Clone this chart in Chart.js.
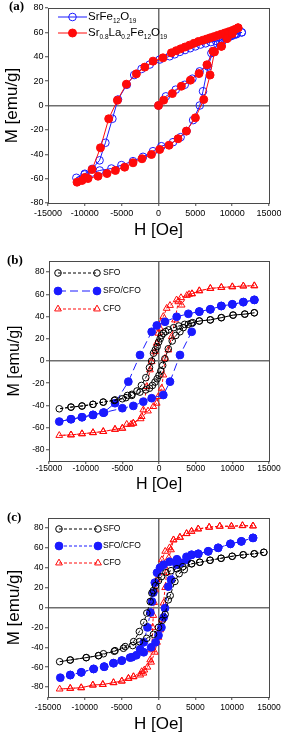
<!DOCTYPE html>
<html lang="en">
<head>
<meta charset="UTF-8" />
<title>M-H hysteresis loops</title>
<script src="https://cdn.jsdelivr.net/npm/chart.js"></script>
<style>
  body { margin: 0; background: #fff; width: 281px; height: 736px; position: relative; overflow: hidden; }
  canvas { position: absolute; left: 0; }
</style>
</head>
<body>
<canvas id="chartA" width="281" height="245" style="top:0"></canvas>
<canvas id="chartB" width="281" height="250" style="top:245px"></canvas>
<canvas id="chartC" width="281" height="241" style="top:495px"></canvas>

<script>
const FONT = "'Liberation Sans', Arial, sans-serif";

// axis ticks (same for all three panels)
const hTicks = [-15000, -10000, -5000, 0, 5000, 10000, 15000];
const mTicks = [-80, -60, -40, -20, 0, 20, 40, 60, 80];

// ---- (a) ----  path = initial curve, upper branch, lower branch
const aSrfH = [0, 1000, 2340, 3560, 4600, 5590, 6600, 7180, 8000, 8700, 9500, 10300, 11300,
  10600, 9900, 9200, 8500, 7800, 7100, 6400, 5700, 5000, 4300, 3600, 2900, 2200, 1520, 160, -1190, -2300, -3300, -4300, -5500, -6260, -7210, -8000, -9000, -10000, -11150,
  -10020, -9000, -7980, -6390, -5030, -3460, -2100, -750, 390, 1970, 3000, 3800, 4700, 5600, 6040, 6720, 7400, 8300, 9000, 9800, 10500, 11300];
const aSrfM = [0, 7.5, 13, 17, 22, 28, 33, 43, 50, 53, 56, 58, 60,
  58.5, 57, 55.5, 54, 53, 52, 51, 50, 48.5, 47, 45.5, 44, 42, 40.4, 37.7, 33.6, 30, 25, 17, 4.9, -10.9, -30.6, -45, -52, -56, -59.3,
  -56.6, -55, -53.3, -51.7, -48.9, -45.7, -42.1, -37.5, -33.4, -30.1, -26, -21, -12, 0, 11.7, 32, 44.5, 53, 55.5, 57.5, 59, 60];

const aLaH = [0, 700, 1880, 3100, 4330, 5500, 6580, 7400, 8540, 9300, 10000, 10800,
  10400, 10000, 9500, 9000, 8500, 8000, 7500, 7000, 6500, 6000, 5400, 4800, 4200, 3600, 3000, 2400, 1750, 610, -740, -1860, -3000, -4360, -5580, -6760, -7880, -9020, -10000, -11060,
  -10380, -9570, -8210, -6990, -5850, -4590, -3460, -2240, -960, 160, 1430, 2650, 3790, 5010, 6140, 7000, 7600, 8540, 9300, 10000, 10800];
const aLaM = [0, 4.4, 9.8, 15.8, 20.8, 26.2, 33.4, 44.5, 48.6, 55, 59, 63.7,
  62.5, 61.5, 60.5, 59.5, 58.5, 57.5, 56.5, 55.5, 54.5, 53.5, 52.5, 51, 49.5, 48, 46.5, 45, 43.2, 39.1, 36.4, 31.5, 26, 17.5, 4.3, -10.9, -34.7, -52.5, -59, -62.9,
  -61.5, -59.9, -58, -55.8, -53.3, -50.6, -47, -43.7, -40.2, -36.1, -32.6, -27.3, -21, -10.1, 4.9, 25, 44, 48.6, 55, 59, 63.7];

// ---- (b) ----  path = upper branch, lower branch
const bSfoH = [13000, 11700, 10100, 8500, 7000, 5500, 4400, 3500, 2700, 2000, 1300, 900, 600, 350, 150, -50, -250, -500, -750, -1000, -1300, -1800, -2400, -3000, -3700, -4300, -5000, -6100, -7600, -9000, -10500, -12000, -13600,
  -12000, -10500, -9000, -7600, -6000, -4500, -3700, -2600, -1800, -1300, -900, -550, -250, 0, 250, 500, 800, 1270, 1800, 2300, 2860, 3300, 4000, 4600, 5500, 7000, 8500, 10100, 11700, 13000];
const bSfoM = [43.4, 42.2, 41.3, 39, 37, 36, 34, 33, 31.5, 30, 28, 26.5, 25, 23, 20, 17, 13, 10, 7, 0, -6, -15, -22, -27, -30, -31, -34, -35.5, -37, -39, -40.5, -41.5, -43,
  -41.5, -40.5, -39, -37, -35, -33, -31, -28, -26, -24.5, -22, -19, -16, -13, -9, -4, 2, 11, 18, 23, 26.3, 30, 33, 34.5, 36, 37, 39, 41.3, 42.2, 43.4];

const bMixH = [13000, 11500, 10000, 8500, 7000, 5500, 4000, 2410, 820, -300, -1000, -2590, -4180, -6000, -7600, -9000, -10500, -12000, -13600,
  -12000, -10500, -9000, -7500, -5000, -3500, -2140, -1000, 590, 1500, 2860, 4460, 5500, 7000, 8500, 10000, 11500, 13000];
const bMixM = [55, 53, 51, 49.5, 46.5, 44.5, 42.5, 39.8, 35.3, 32, 26.3, 5.4, -18.6, -38, -46.5, -48.5, -50.6, -52.4, -54.5,
  -52.4, -50.6, -48.5, -46.4, -42.5, -40.4, -36.6, -33.5, -30.6, -18.6, 5.4, 26.3, 44.5, 46.5, 49.5, 51, 53, 55];

const bCfoH = [13000, 11500, 10000, 8500, 7000, 5500, 4500, 4100, 3000, 2400, 1500, 1050, 590, 360, 140, -90, -310, -550, -1000, -1230, -1680, -2140, -2360, -3500, -3800, -5000, -6000, -7600, -9000, -10500, -12000, -13600,
  -12000, -10500, -9000, -7600, -6000, -5000, -4400, -3500, -2500, -1500, -770, -310, -90, 360, 590, 820, 1270, 1730, 2180, 2630, 3090, 3800, 4500, 5500, 7000, 8500, 10000, 11500, 13000];
const bCfoM = [67.7, 67.5, 66.8, 66.2, 65.3, 63.2, 60.5, 60, 57, 55, 50, 47.4, 40, 35.3, 29.4, 25, 16, 8.4, -0.6, -8, -23, -44, -50, -56, -57, -60.5, -61.5, -63.5, -64.5, -65.5, -66.5, -67,
  -66.5, -65.5, -64.5, -63.5, -61.5, -60.5, -57, -56, -52, -45, -41, -38, -32, -24.5, -12.6, 2.4, 9.9, 21.8, 36.9, 53.3, 50.3, 59, 60.5, 63.2, 65.3, 66.2, 66.8, 67.5, 67.7];

// ---- (c) ----
const cSfoH = [14300, 13000, 11500, 10000, 8500, 7000, 5600, 4500, 3300, 2500, 1700, 1000, 400, 0, -400, -700, -900, -1130, -1580, -2000, -2600, -3370, -4520, -5900, -7470, -8140, -9810, -11980, -13420,
  -11980, -9810, -8140, -6000, -4760, -3500, -2590, -1600, -680, 0, 500, 900, 1330, 1590, 2230, 2800, 3500, 4500, 5600, 7000, 8500, 10000, 11500, 13000, 14300];
const cSfoM = [55.5, 54, 53, 51.5, 49.5, 47.5, 45.5, 44, 41, 39, 37, 35, 31, 27, 22, 17, 14.5, 6, -5.6, -15, -24.2, -34.3, -39.3, -43.4, -46.5, -48.4, -50.4, -52.8, -54.5,
  -52.8, -50.4, -48.4, -44, -41, -38.3, -34.3, -31, -27, -20, -13, -7, 7.7, 12, 26.2, 34, 38, 44, 45.5, 47.5, 49.5, 51.5, 53, 54, 55.5];

const cMixH = [12830, 11250, 9770, 8100, 6750, 5400, 4490, 3800, 2500, 1500, 700, 200, -200, -500, -700, -880, -1100, -1500, -2000, -2500, -3600, -4990, -6110, -7370, -8810, -10480, -11970, -13330,
  -11970, -10480, -8810, -7370, -6110, -4990, -3860, -3000, -2000, -1000, -400, 0, 400, 700, 880, 1330, 1700, 2460, 3000, 3820, 4490, 5400, 6750, 8100, 9770, 11250, 12830];
const cMixM = [70, 66.5, 64, 60, 56.5, 54, 53, 51, 48.5, 46, 43, 40, 35, 25, 15, 6, -5, -20, -35, -42, -50, -53.4, -56, -59.5, -61.8, -65.2, -67.9, -70.6,
  -67.9, -65.2, -61.8, -59.5, -56, -53.4, -50.4, -48, -45, -40, -35, -28, -20, -10, -0.7, 21, 28, 43, 45, 48, 53, 54, 56.5, 60, 64, 66.5, 70];

const cCfoH = [12830, 11400, 9900, 8320, 6880, 5390, 4490, 3810, 2910, 2040, 1500, 910, 460, 230, 0, -220, -450, -600, -700, -800, -900, -1130, -1500, -2040, -2480, -3400, -4080, -4980, -6110, -7560, -8910, -10490, -11980, -13420,
  -11980, -10490, -8910, -7560, -6110, -4980, -4080, -3400, -2280, -1920, -1000, -500, -200, 0, 230, 460, 680, 900, 1100, 1400, 1700, 2040, 2910, 3810, 4490, 5390, 6880, 8320, 9900, 11400, 12830];
const cCfoM = [82, 82.3, 81.7, 81.7, 80.7, 79, 76.6, 74.3, 70.6, 68, 60, 56.5, 48, 41, 34.7, 28, 17.8, 5, -8, -20, -42.6, -52.7, -60, -66, -67.9, -69.6, -71.3, -74, -75.6, -77.4, -78, -80.7, -81.3, -82,
  -81.3, -80.7, -78, -77.4, -75.6, -74, -71.3, -69.6, -64.5, -62.9, -55, -45, -35, -30, -22.5, -12.4, 4.4, 20, 35, 50, 58, 68, 70.6, 74.3, 76.6, 79, 80.7, 81.7, 81.7, 82.3, 82];

const BLUE = '#1a1aff', RED = '#ff0a0a', BLACK = '#000';

function pts(h, m) { return h.map((v, i) => ({ x: v, y: m[i] })); }

function series(h, m, color, style) {
  return Object.assign({
    data: pts(h, m), showLine: true,
    borderColor: color, borderWidth: 1,
    pointBorderColor: color, pointBorderWidth: 1,
    pointBackgroundColor: 'rgba(255,255,255,0)',
    pointStyle: 'circle', pointRadius: 3.5
  }, style);
}

// box around the plot area
const framePlugin = {
  id: 'frame',
  afterDraw(chart) {
    const { ctx, chartArea: a } = chart;
    ctx.save();
    ctx.strokeStyle = '#4a4a4a';
    ctx.lineWidth = 1;
    ctx.strokeRect(Math.round(a.left) + 0.5, Math.round(a.top) + 0.5, Math.round(a.right - a.left), Math.round(a.bottom - a.top));
    ctx.restore();
  }
};

// text with subscripts, parts = [[text, isSub], ...]
function richText(ctx, parts, x, y, size, subSize) {
  parts.forEach(([t, sub]) => {
    ctx.font = (sub ? subSize : size) + 'px ' + FONT;
    ctx.fillText(t, x, sub ? y + size * 0.38 : y);
    x += ctx.measureText(t).width;
  });
}

const legendPlugin = {
  id: 'boxLegend',
  afterDraw(chart, args, o) {
    const ctx = chart.ctx;
    o.items.forEach((it, i) => {
      const ds = chart.data.datasets[it.ds];
      const y = o.y + i * o.gap;
      ctx.save();
      ctx.strokeStyle = ds.borderColor;
      ctx.lineWidth = ds.borderWidth;
      ctx.setLineDash(ds.borderDash || []);
      ctx.beginPath();
      ctx.moveTo(o.x0, y);
      ctx.lineTo(o.x1, y);
      ctx.stroke();
      ctx.setLineDash([]);
      const xs = o.middle ? [(o.x0 + o.x1) / 2] : [o.x0, o.x1];
      xs.forEach(x => {
        ctx.fillStyle = ds.pointBackgroundColor;
        ctx.strokeStyle = ds.pointBorderColor;
        ctx.lineWidth = ds.pointBorderWidth;
        Chart.helpers.drawPoint(ctx, { pointStyle: ds.pointStyle, radius: ds.pointRadius, borderWidth: ds.pointBorderWidth, rotation: 0 }, x, y);
      });
      ctx.fillStyle = '#000';
      ctx.textBaseline = 'middle';
      ctx.textAlign = 'left';
      richText(ctx, it.text, o.tx, y, o.size, o.subSize);
      ctx.restore();
    });
  }
};

const tagPlugin = {
  id: 'tag',
  afterDraw(chart, args, o) {
    const ctx = chart.ctx;
    ctx.save();
    ctx.font = "bold 13px 'Liberation Serif', serif";
    ctx.fillStyle = '#000';
    ctx.textBaseline = 'middle';
    ctx.fillText(o.text, o.x, o.y);
    ctx.restore();
  }
};

function makeChart(id, datasets, p) {
  const zeroGrid = c => (c.tick && c.tick.value === 0 ? '#6e6e6e' : 'rgba(0,0,0,0)');
  return new Chart(document.getElementById(id), {
    type: 'scatter',
    data: { datasets },
    options: {
      responsive: false,
      animation: false,
      layout: { padding: { top: p.top, right: 281 - p.right, left: 0, bottom: 0 } },
      plugins: {
        legend: { display: false },
        tooltip: { enabled: false },
        boxLegend: p.legend,
        tag: p.tag
      },
      scales: {
        x: {
          type: 'linear', min: -15000, max: 15000,
          afterBuildTicks: s => { s.ticks = hTicks.map(v => ({ value: v })); },
          afterFit: s => { s.height = p.h - p.bottom; s.paddingLeft = 0; s.paddingRight = 0; },
          ticks: { autoSkip: false, maxRotation: 0, padding: p.xTickPad, color: '#000',
                   font: { family: FONT, size: p.tick }, callback: v => String(v) },
          grid: { color: zeroGrid, lineWidth: 1.5, tickColor: '#4a4a4a', tickLength: 3, tickWidth: 1 },
          border: { display: false },
          title: { display: true, text: 'H [Oe]', color: '#000', font: { family: FONT, size: p.title },
                   padding: { top: 0, bottom: p.xTitlePad } }
        },
        y: {
          type: 'linear', min: p.ymin, max: p.ymax,
          afterBuildTicks: s => { s.ticks = mTicks.map(v => ({ value: v })); },
          afterFit: s => { s.width = p.left; s.paddingTop = 0; s.paddingBottom = 0; },
          ticks: { autoSkip: false, padding: 1.5, color: '#000',
                   font: { family: FONT, size: p.tick }, callback: v => String(v) },
          grid: { color: zeroGrid, lineWidth: 1.5, tickColor: '#4a4a4a', tickLength: 3, tickWidth: 1 },
          border: { display: false },
          title: { display: true, text: 'M [emu/g]', color: '#000', font: { family: FONT, size: p.title },
                   padding: { top: p.yTitlePad, bottom: 0 } }
        }
      }
    },
    plugins: [framePlugin, legendPlugin, tagPlugin]
  });
}

// (a) red drawn over blue
makeChart('chartA', [
  series(aLaH, aLaM, RED, { pointBackgroundColor: RED, pointRadius: 4 }),
  series(aSrfH, aSrfM, BLUE, { pointRadius: 3.8 })
], {
  h: 245, top: 8, bottom: 203, left: 48, right: 269, ymin: -80, ymax: 80,
  tick: 9, title: 17, xTickPad: 2, xTitlePad: 4.5, yTitlePad: 1.8,
  tag: { text: '(a)', x: 9, y: 7 },
  legend: { x0: 58, x1: 87, tx: 88, y: 17, gap: 16, middle: true, size: 11.5, subSize: 6.5,
    items: [
      { ds: 1, text: [['SrFe', 0], ['12', 1], ['O', 0], ['19', 1]] },
      { ds: 0, text: [['Sr', 0], ['0.8', 1], ['La', 0], ['0.2', 1], ['Fe', 0], ['12', 1], ['O', 0], ['19', 1]] }
    ] }
});

makeChart('chartB', [
  series(bSfoH, bSfoM, BLACK, { borderDash: [3, 2], pointRadius: 3.3 }),
  series(bMixH, bMixM, BLUE, { borderDash: [8, 4], pointBackgroundColor: BLUE, pointRadius: 3.9 }),
  series(bCfoH, bCfoM, RED, { borderDash: [3, 2], pointStyle: 'triangle', pointRadius: 3.9 })
], {
  h: 250, top: 16, bottom: 216, left: 49, right: 269, ymin: -90, ymax: 90,
  tick: 8.5, title: 16, xTickPad: 0, xTitlePad: 0.5, yTitlePad: 5,
  tag: { text: '(b)', x: 7, y: 16 },
  legend: { x0: 58, x1: 97, tx: 103, y: 28, gap: 18, middle: false, size: 8.5, subSize: 6,
    items: [
      { ds: 0, text: [['SFO', 0]] },
      { ds: 1, text: [['SFO/CFO', 0]] },
      { ds: 2, text: [['CFO', 0]] }
    ] }
});

makeChart('chartC', [
  series(cSfoH, cSfoM, BLACK, { borderDash: [3, 2], pointRadius: 3.3 }),
  series(cMixH, cMixM, BLUE, { borderDash: [3, 2], pointBackgroundColor: BLUE, pointRadius: 3.9 }),
  series(cCfoH, cCfoM, RED, { borderDash: [3, 2], pointStyle: 'triangle', pointRadius: 3.9 })
], {
  h: 241, top: 23, bottom: 202, left: 48, right: 269, ymin: -90, ymax: 90,
  tick: 8.5, title: 17, xTickPad: 3, xTitlePad: 1.5, yTitlePad: 4.5,
  tag: { text: '(c)', x: 7, y: 23 },
  legend: { x0: 59, x1: 98, tx: 103, y: 34, gap: 17, middle: false, size: 8.5, subSize: 6,
    items: [
      { ds: 0, text: [['SFO', 0]] },
      { ds: 1, text: [['SFO/CFO', 0]] },
      { ds: 2, text: [['CFO', 0]] }
    ] }
});
</script>
</body>
</html>
